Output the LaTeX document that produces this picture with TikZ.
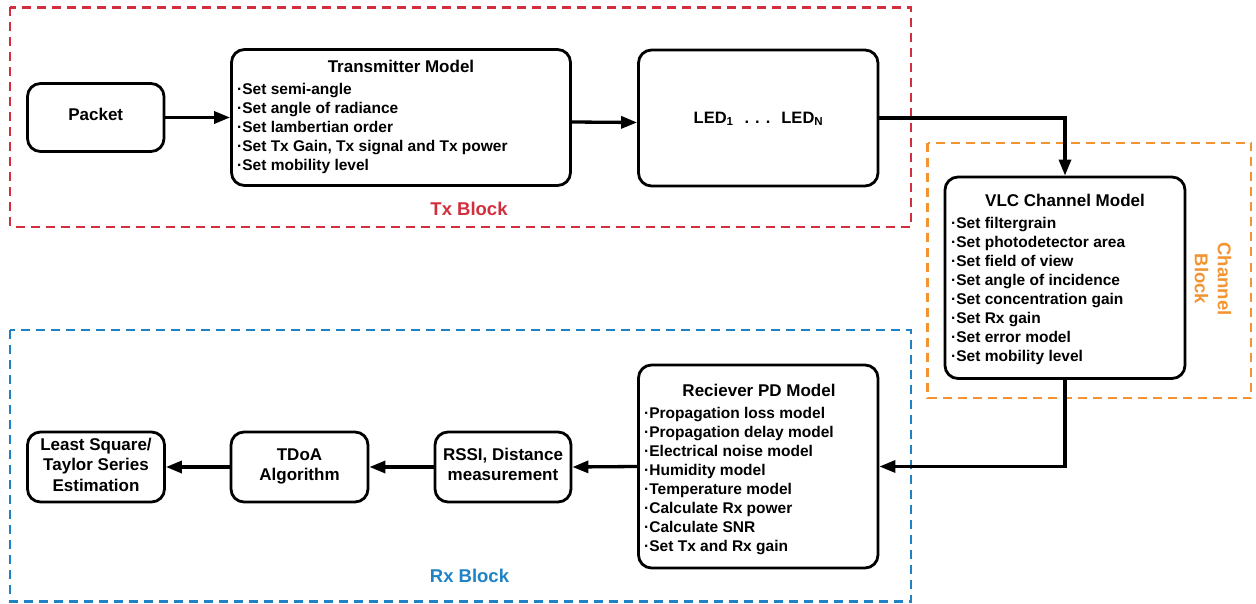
\documentclass[tikz,border=0pt]{standalone}
\usepackage{fontspec}
\setmainfont{Liberation Sans}
\usetikzlibrary{arrows.meta,calc}

\definecolor{txred}{HTML}{D12F3E}
\definecolor{chorange}{HTML}{F39431}
\definecolor{rxblue}{HTML}{1E82C4}

\newcommand\bfs[2]{\fontsize{#1}{#2}\selectfont\bfseries}

\tikzset{
  x=1pt, y=-1pt,
  block/.style={draw, rounded corners=13pt, line width=2.8pt, inner sep=0pt},
  zone/.style={draw, line width=2.2pt, dash pattern=on 9pt off 6pt},
  flow/.style={line width=3.3pt, -{Triangle[length=16pt,width=12pt]}},
  heading/.style={font=\bfs{17}{20.5}, inner sep=0pt, anchor=base},
  items/.style={font=\bfs{15.5}{19}, inner sep=0pt, anchor=base west},
  zonelabel/.style={font=\bfs{18.5}{23}, inner sep=0pt},
}

\begin{document}
\begin{tikzpicture}
\useasboundingbox (0,0) rectangle (1256,604);

% dashed grouping frames
\draw[zone, txred]    (10,7.5)    rectangle (911,227);
\draw[zone, chorange] (927.5,143) rectangle (1251,398);
\draw[zone, rxblue]   (10,330)    rectangle (911,601.5);

\node[zonelabel, text=txred, anchor=base] (txlabel) at (469,216) {Tx Block};
\node[zonelabel, text=rxblue, anchor=base] (rxlabel) at (469.5,582) {Rx Block};
\node[zonelabel, text=chorange, align=center, rotate=-90] (chlabel) at (1213,279) {Channel\\Block};

% boxes
\node[block, minimum width=136.5, minimum height=68]  (packet) at (95.75,117.5) {};
\node[block, minimum width=339,   minimum height=136] (tx)     at (401,117.5)   {};
\node[block, minimum width=239.5, minimum height=136] (led)    at (758.25,118)  {};
\node[block, minimum width=240,   minimum height=201.5] (chan) at (1065,277.75) {};
\node[block, minimum width=239.5, minimum height=203] (rx)     at (758.25,466.5) {};
\node[block, minimum width=136,   minimum height=70]  (rssi)   at (503,467)     {};
\node[block, minimum width=137,   minimum height=70]  (tdoa)   at (299.5,467)   {};
\node[block, minimum width=137,   minimum height=70]  (ls)     at (96,467)      {};

% box texts
\node[heading] (packettext) at (95.75,121) {Packet};

\node[heading] (txtitle) at (401,73) {Transmitter Model};
\node[items] (txitems) at (237,95) {\begin{tabular}[t]{@{}l@{}}
·Set semi-angle\\
·Set angle of radiance\\
·Set lambertian order\\
·Set Tx Gain, Tx signal and Tx power\\
·Set mobility level
\end{tabular}};

\node[heading, font=\bfs{16.5}{20}] (ledtext) at (758.5,123.3)
  {LED\textsubscript{1}\hspace{11pt}.\hspace{6pt}.\hspace{6pt}.\hspace{11pt}LED\textsubscript{N}};

\node[heading] (chantitle) at (1065,207) {VLC Channel Model};
\node[items] (chanitems) at (951,229) {\begin{tabular}[t]{@{}l@{}}
·Set filtergrain\\
·Set photodetector area\\
·Set field of view\\
·Set angle of incidence\\
·Set concentration gain\\
·Set Rx gain\\
·Set error model\\
·Set mobility level
\end{tabular}};

\node[heading] (rxtitle) at (759,396) {Reciever PD Model};
\node[items] (rxitems) at (644,418) {\begin{tabular}[t]{@{}l@{}}
·Propagation loss model\\
·Propagation delay model\\
·Electrical noise model\\
·Humidity model\\
·Temperature model\\
·Calculate Rx power\\
·Calculate SNR\\
·Set Tx and Rx gain
\end{tabular}};

\node[heading] (rssitext) at (503,460) {\begin{tabular}[t]{@{}c@{}}RSSI, Distance\\measurement\end{tabular}};
\node[heading] (tdoatext) at (299.5,460) {\begin{tabular}[t]{@{}c@{}}TDoA\\Algorithm\end{tabular}};
\node[heading] (lstext) at (96,450) {\begin{tabular}[t]{@{}c@{}}Least Square/\\Taylor Series\\Estimation\end{tabular}};

% connectors
\draw[flow] (packet.east) -- (tx.west);
\draw[flow] ([yshift=-4.5pt]tx.east) -- ([yshift=-4.5pt]led.west);
\draw[flow] (led.east) -| (chan.north);
\draw[flow] (chan.south) |- (rx.east);
\draw[flow] (rx.west) -- (rssi.east);
\draw[flow] (rssi.west) -- (tdoa.east);
\draw[flow] (tdoa.west) -- (ls.east);
\end{tikzpicture}
\end{document}
